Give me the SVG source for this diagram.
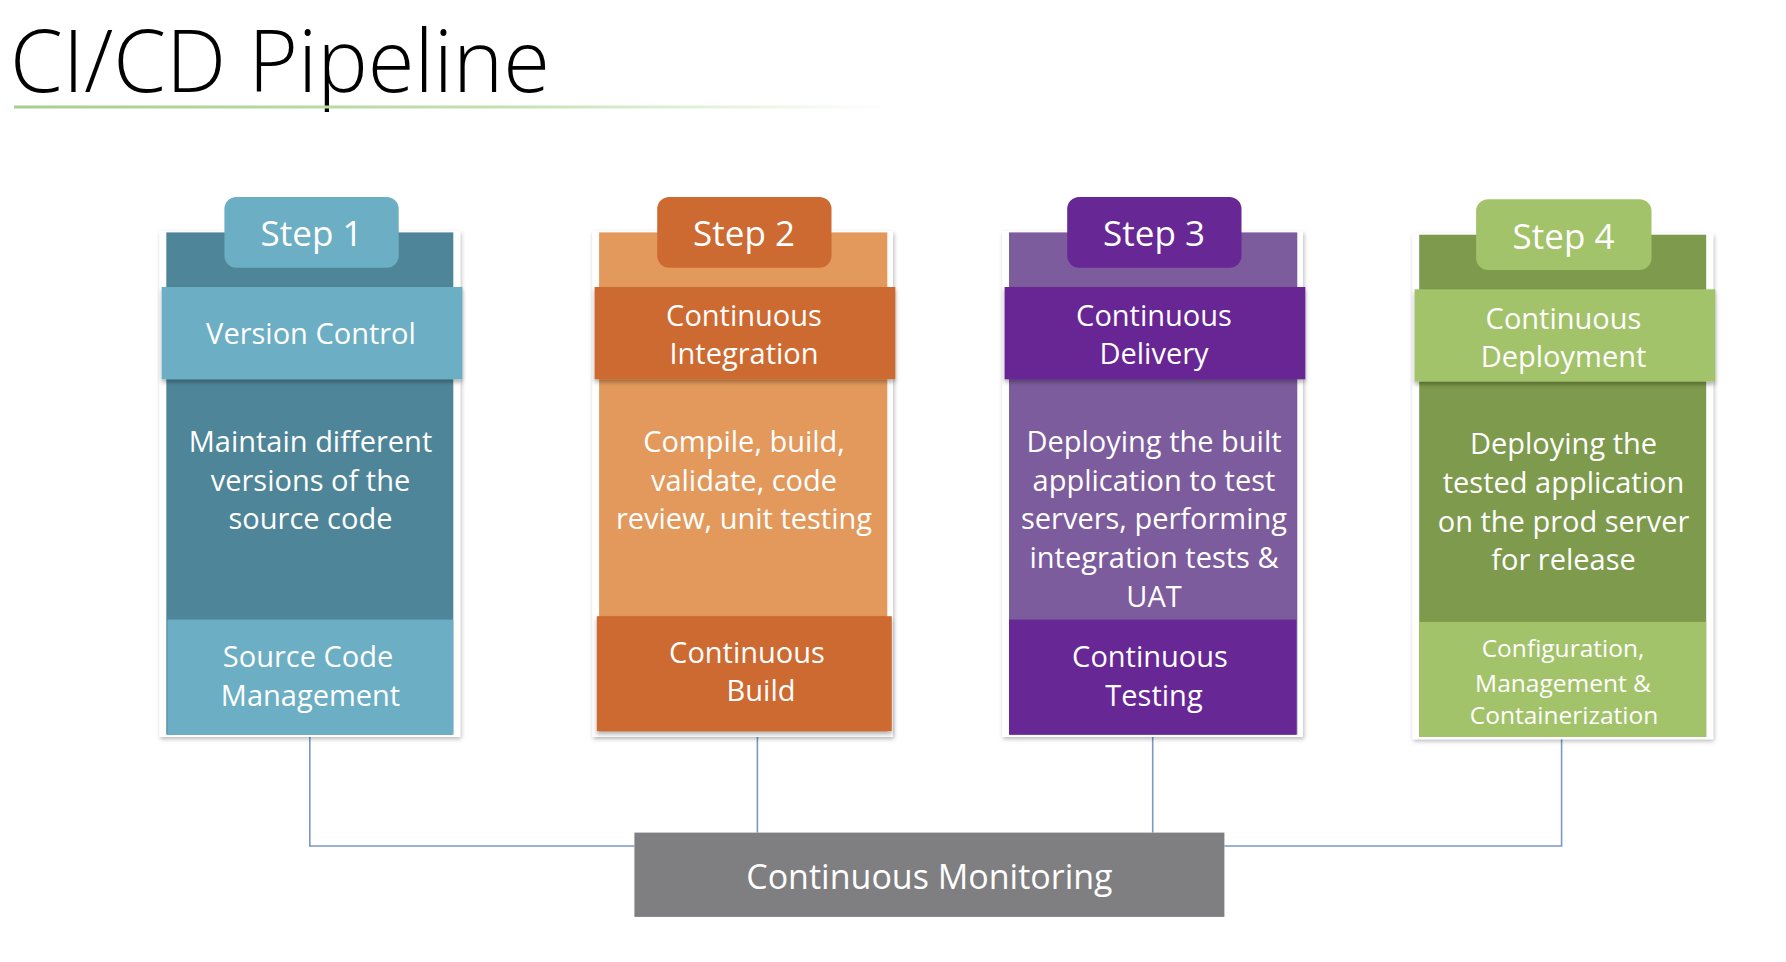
<svg xmlns="http://www.w3.org/2000/svg" width="1786" height="962" viewBox="0 0 1786 962">
<defs>
<linearGradient id="rule" x1="0" y1="0" x2="1" y2="0">
<stop offset="0" stop-color="#a6cf8b"/>
<stop offset="0.55" stop-color="#c3dfb0"/>
<stop offset="1" stop-color="#ffffff"/>
</linearGradient>
<filter id="cardShadow" x="-10%" y="-10%" width="120%" height="120%">
<feDropShadow dx="1" dy="2" stdDeviation="2" flood-color="#000" flood-opacity="0.28"/>
</filter>
<filter id="bandShadow" x="-5%" y="-10%" width="110%" height="130%">
<feDropShadow dx="0" dy="3" stdDeviation="2" flood-color="#000" flood-opacity="0.3"/>
</filter>
</defs>
<style>
.card{fill:#ffffff;filter:url(#cardShadow)}
.band{filter:url(#bandShadow)}
.t{font-family:"Open Sans","Noto Sans",sans-serif;fill:#ffffff;text-anchor:middle}
.b{font-size:29px}
.s{font-size:35px}
.sm{font-size:24.5px}
.conn{fill:none;stroke:#7b96c8;stroke-width:1.6}
.title{font-family:"Open Sans","Noto Sans",sans-serif;font-weight:300;font-size:86px;fill:#000000}
</style>
<rect width="1786" height="962" fill="#ffffff"/>

<g id="title">
<text class="title" x="10" y="92" textLength="540" lengthAdjust="spacingAndGlyphs">CI/CD Pipeline</text>
<rect x="14" y="105.5" width="874" height="3" fill="url(#rule)"/>
</g>

<g id="connectors">
<polyline class="conn" points="309.8,737 309.8,846 634.4,846"/>
<polyline class="conn" points="1224.4,846 1561.6,846 1561.6,739"/>
<line class="conn" x1="757.4" y1="732" x2="757.4" y2="832.6"/>
<line class="conn" x1="1152.7" y1="735" x2="1152.7" y2="832.6"/>
</g>

<g id="step1">
<rect class="card" x="159.5" y="231.2" width="300.7" height="505.8"/>
<rect x="166.3" y="232.4" width="287" height="502.3" fill="#4e8598"/>
<rect x="224.4" y="197" width="174.3" height="70.7" rx="12" fill="#6caec3"/>
<text class="t s" x="311.5" y="246">Step 1</text>
<rect class="band" x="161.7" y="287" width="300.7" height="92.3" fill="#6caec3"/>
<text class="t b" x="311" y="344">Version Control</text>
<text class="t b" x="310.5" y="452">Maintain different</text>
<text class="t b" x="310.5" y="491">versions of the</text>
<text class="t b" x="310.5" y="529">source code</text>
<rect x="167.4" y="619.6" width="285.9" height="115.1" fill="#6caec3"/>
<text class="t b" x="308" y="667">Source Code</text>
<text class="t b" x="310.5" y="706">Management</text>
</g>

<g id="step2">
<rect class="card" x="592.3" y="231.2" width="300.7" height="505.8"/>
<rect x="599.1" y="232.4" width="288.2" height="499" fill="#e3995c"/>
<rect x="657.2" y="197" width="174.3" height="70.7" rx="12" fill="#cd6a32"/>
<text class="t s" x="744" y="246">Step 2</text>
<rect class="band" x="594.6" y="287" width="300.7" height="92.3" fill="#cd6a32"/>
<text class="t b" x="744" y="326">Continuous</text>
<text class="t b" x="744" y="364">Integration</text>
<text class="t b" x="744" y="452">Compile, build,</text>
<text class="t b" x="744" y="491">validate, code</text>
<text class="t b" x="744" y="529">review, unit testing</text>
<rect class="band" x="596.8" y="616.2" width="295" height="115" fill="#cd6a32"/>
<text class="t b" x="747" y="663">Continuous</text>
<text class="t b" x="761" y="701">Build</text>
</g>

<g id="step3">
<rect class="card" x="1002.3" y="231.2" width="300.7" height="505.8"/>
<rect x="1009" y="232.4" width="288.3" height="502.3" fill="#7c5c9c"/>
<rect x="1067.2" y="197" width="174.3" height="70.7" rx="12" fill="#672795"/>
<text class="t s" x="1154" y="246">Step 3</text>
<rect class="band" x="1004.6" y="287" width="300.7" height="92.3" fill="#672795"/>
<text class="t b" x="1154" y="326">Continuous</text>
<text class="t b" x="1154" y="364">Delivery</text>
<text class="t b" x="1154" y="452">Deploying the built</text>
<text class="t b" x="1154" y="491">application to test</text>
<text class="t b" x="1154" y="529">servers, performing</text>
<text class="t b" x="1154" y="568">integration tests &amp;</text>
<text class="t b" x="1154" y="607">UAT</text>
<rect x="1009" y="619.6" width="287.2" height="115.1" fill="#672795"/>
<text class="t b" x="1150" y="667">Continuous</text>
<text class="t b" x="1154" y="706">Testing</text>
</g>

<g id="step4">
<rect class="card" x="1412.4" y="233.5" width="300.7" height="505.7"/>
<rect x="1419.2" y="234.7" width="287" height="502.3" fill="#7e9a4c"/>
<rect x="1476.1" y="199.3" width="175.4" height="70.7" rx="12" fill="#a3c36a"/>
<text class="t s" x="1563.5" y="248.5">Step 4</text>
<rect class="band" x="1414.6" y="289.3" width="300.7" height="92.3" fill="#a3c36a"/>
<text class="t b" x="1563.5" y="328.5">Continuous</text>
<text class="t b" x="1563.5" y="366.5">Deployment</text>
<text class="t b" x="1563.5" y="454">Deploying the</text>
<text class="t b" x="1563.5" y="493">tested application</text>
<text class="t b" x="1563.5" y="532">on the prod server</text>
<text class="t b" x="1563.5" y="570">for release</text>
<rect x="1419.2" y="621.9" width="287" height="115.1" fill="#a3c36a"/>
<text class="t sm" x="1563" y="657">Configuration,</text>
<text class="t sm" x="1563" y="692">Management &amp;</text>
<text class="t sm" x="1564" y="724">Containerization</text>
</g>

<g id="monitoring">
<rect x="634.4" y="832.6" width="590" height="84.3" fill="#7f7e80"/>
<text class="t" style="font-size:34px" x="929.4" y="889">Continuous Monitoring</text>
</g>
</svg>
